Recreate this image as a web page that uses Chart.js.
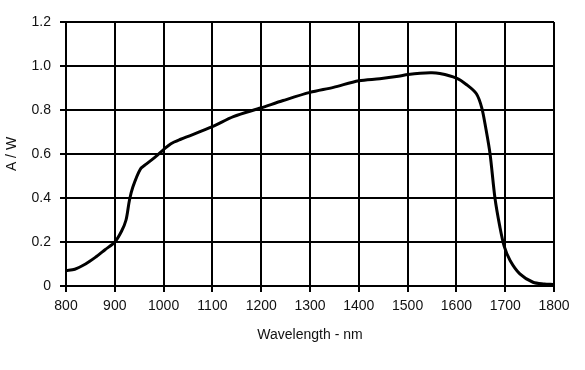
<!DOCTYPE html>
<html>
<head>
<meta charset="utf-8">
<script src="https://cdn.jsdelivr.net/npm/chart.js@4"></script>
<style>
html,body{margin:0;padding:0;background:#fff;}
#wrap{width:585px;height:370px;}
</style>
</head>
<body>
<div id="wrap"><canvas id="c" width="585" height="370"></canvas></div>
<script>
const wavelength = [800, 818, 840, 860, 880, 900, 914, 923, 930, 937, 952, 965, 985, 1000, 1015, 1035, 1100, 1143, 1200, 1245, 1300, 1348, 1400, 1443, 1481, 1501, 1546, 1566, 1600, 1621, 1641, 1652, 1660, 1669, 1679, 1689, 1698, 1710, 1730, 1757, 1780, 1798];
const responsivity = [0.07, 0.076, 0.10, 0.13, 0.165, 0.20, 0.25, 0.30, 0.39, 0.45, 0.53, 0.555, 0.59, 0.62, 0.647, 0.667, 0.724, 0.77, 0.81, 0.843, 0.88, 0.903, 0.933, 0.942, 0.953, 0.961, 0.969, 0.966, 0.945, 0.915, 0.874, 0.81, 0.72, 0.60, 0.40, 0.27, 0.18, 0.116, 0.055, 0.017, 0.009, 0.007];
const xTicks = [800, 900, 1000, 1100, 1200, 1300, 1400, 1500, 1600, 1700, 1800];
const yTicks = [0, 0.2, 0.4, 0.6, 0.8, 1.0, 1.2];

const points = wavelength.map((w, i) => ({x: w, y: responsivity[i]}));
const font = {family: '"Liberation Sans", Arial, sans-serif', size: 14};

new Chart(document.getElementById('c'), {
  type: 'scatter',
  data: {
    datasets: [{
      data: points,
      showLine: true,
      borderColor: '#000',
      borderWidth: 3,
      pointRadius: 0,
      fill: false,
      tension: 0.3
    }]
  },
  options: {
    responsive: false,
    animation: false,
    devicePixelRatio: 1,
    layout: {padding: {top: 22, right: 31, left: 0, bottom: 22}},
    plugins: {legend: {display: false}, tooltip: {enabled: false}},
    scales: {
      x: {
        type: 'linear',
        min: 800, max: 1800,
        afterBuildTicks: s => { s.ticks = xTicks.map(v => ({value: v})); },
        afterFit: s => { s.height = 62; },
        grid: {color: '#000', lineWidth: 2, tickLength: 6, drawTicks: true},
        border: {color: '#000', width: 2},
        ticks: {color: '#111', font: font, padding: 6, maxRotation: 0, callback: v => String(v)},
        title: {display: true, text: 'Wavelength - nm', color: '#111', font: font, padding: {top: 6}}
      },
      y: {
        min: 0, max: 1.2,
        afterBuildTicks: s => { s.ticks = yTicks.map(v => ({value: v})); },
        afterFit: s => { s.width = 66; },
        grid: {color: '#000', lineWidth: 2, tickLength: 6, drawTicks: true},
        border: {color: '#000', width: 2},
        ticks: {color: '#111', font: font, padding: 9, callback: v => (v === 0 ? '0' : v.toFixed(1))},
        title: {display: true, text: 'A / W', color: '#111', font: font, padding: {bottom: 0}}
      }
    }
  }
});
</script>
</body>
</html>
